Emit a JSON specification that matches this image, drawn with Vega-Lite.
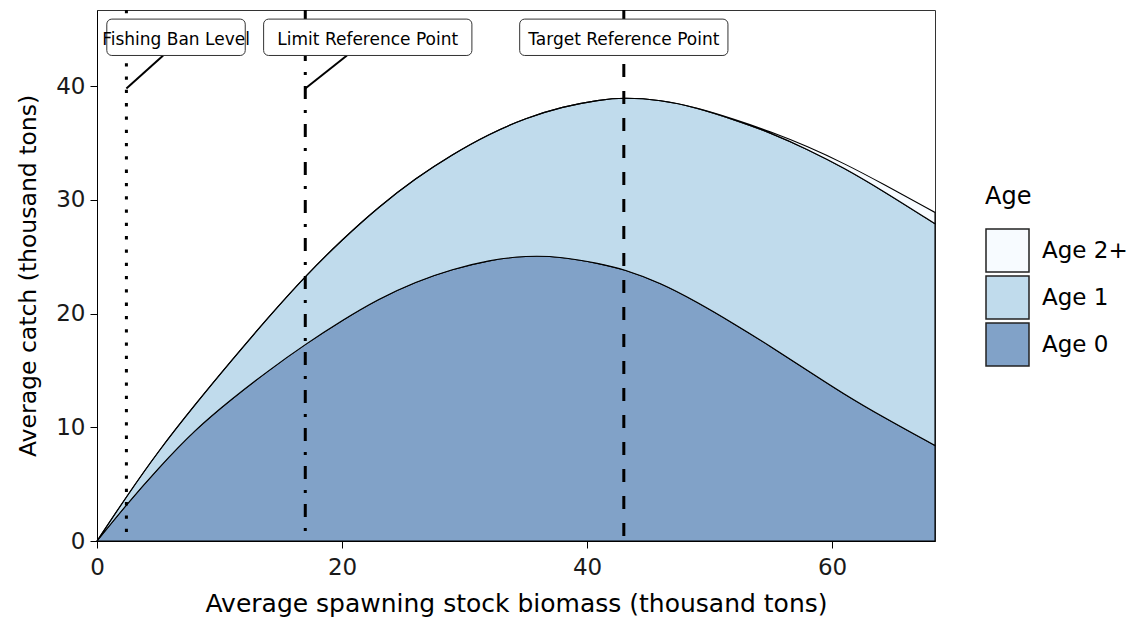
{
  "$schema": "https://vega.github.io/schema/vega-lite/v6.json",
  "width": 838,
  "height": 531,
  "autosize": {"type": "none"},
  "padding": {"left": 97, "top": 10, "right": 200, "bottom": 80},
  "background": "white",
  "config": {
    "font": "DejaVu Sans",
    "view": {"stroke": "#333333", "strokeWidth": 1},
    "axis": {
      "grid": false,
      "domainColor": "black",
      "domainWidth": 1,
      "tickColor": "black",
      "tickSize": 7,
      "tickWidth": 1,
      "labelFontSize": 23,
      "labelColor": "#1a1a1a",
      "labelFlush": false,
      "labelOverlap": false,
      "titleFontWeight": "normal",
      "titleColor": "black"
    }
  },
  "datasets": {
    "curves": [
      {"x": 0, "age": "Age 0", "catch": 0}, {"x": 0, "age": "Age 1", "catch": 0}, {"x": 0, "age": "Age 2+", "catch": 0},
      {"x": 2.4, "age": "Age 0", "catch": 3.2}, {"x": 2.4, "age": "Age 1", "catch": 0.7}, {"x": 2.4, "age": "Age 2+", "catch": 0},
      {"x": 5, "age": "Age 0", "catch": 6.4}, {"x": 5, "age": "Age 1", "catch": 1.5}, {"x": 5, "age": "Age 2+", "catch": 0},
      {"x": 8, "age": "Age 0", "catch": 9.8}, {"x": 8, "age": "Age 1", "catch": 2.2}, {"x": 8, "age": "Age 2+", "catch": 0},
      {"x": 11, "age": "Age 0", "catch": 12.5}, {"x": 11, "age": "Age 1", "catch": 3.4}, {"x": 11, "age": "Age 2+", "catch": 0},
      {"x": 14, "age": "Age 0", "catch": 15.0}, {"x": 14, "age": "Age 1", "catch": 4.7}, {"x": 14, "age": "Age 2+", "catch": 0},
      {"x": 17, "age": "Age 0", "catch": 17.3}, {"x": 17, "age": "Age 1", "catch": 6.0}, {"x": 17, "age": "Age 2+", "catch": 0},
      {"x": 20, "age": "Age 0", "catch": 19.4}, {"x": 20, "age": "Age 1", "catch": 7.1}, {"x": 20, "age": "Age 2+", "catch": 0},
      {"x": 23, "age": "Age 0", "catch": 21.3}, {"x": 23, "age": "Age 1", "catch": 8.1}, {"x": 23, "age": "Age 2+", "catch": 0},
      {"x": 26, "age": "Age 0", "catch": 22.8}, {"x": 26, "age": "Age 1", "catch": 9.1}, {"x": 26, "age": "Age 2+", "catch": 0},
      {"x": 29, "age": "Age 0", "catch": 23.9}, {"x": 29, "age": "Age 1", "catch": 10.1}, {"x": 29, "age": "Age 2+", "catch": 0},
      {"x": 32, "age": "Age 0", "catch": 24.7}, {"x": 32, "age": "Age 1", "catch": 11.1}, {"x": 32, "age": "Age 2+", "catch": 0},
      {"x": 35, "age": "Age 0", "catch": 25.1}, {"x": 35, "age": "Age 1", "catch": 12.1}, {"x": 35, "age": "Age 2+", "catch": 0},
      {"x": 38, "age": "Age 0", "catch": 25.0}, {"x": 38, "age": "Age 1", "catch": 13.2}, {"x": 38, "age": "Age 2+", "catch": 0},
      {"x": 41, "age": "Age 0", "catch": 24.4}, {"x": 41, "age": "Age 1", "catch": 14.4}, {"x": 41, "age": "Age 2+", "catch": 0},
      {"x": 43, "age": "Age 0", "catch": 23.9}, {"x": 43, "age": "Age 1", "catch": 15.1}, {"x": 43, "age": "Age 2+", "catch": 0},
      {"x": 46, "age": "Age 0", "catch": 22.7}, {"x": 46, "age": "Age 1", "catch": 16.1}, {"x": 46, "age": "Age 2+", "catch": 0},
      {"x": 49, "age": "Age 0", "catch": 21.0}, {"x": 49, "age": "Age 1", "catch": 17.1}, {"x": 49, "age": "Age 2+", "catch": 0},
      {"x": 52, "age": "Age 0", "catch": 19.1}, {"x": 52, "age": "Age 1", "catch": 17.95}, {"x": 52, "age": "Age 2+", "catch": 0.05},
      {"x": 55, "age": "Age 0", "catch": 17.1}, {"x": 55, "age": "Age 1", "catch": 18.8}, {"x": 55, "age": "Age 2+", "catch": 0.1},
      {"x": 58, "age": "Age 0", "catch": 15.0}, {"x": 58, "age": "Age 1", "catch": 19.45}, {"x": 58, "age": "Age 2+", "catch": 0.25},
      {"x": 61, "age": "Age 0", "catch": 12.9}, {"x": 61, "age": "Age 1", "catch": 19.9}, {"x": 61, "age": "Age 2+", "catch": 0.4},
      {"x": 64, "age": "Age 0", "catch": 11.0}, {"x": 64, "age": "Age 1", "catch": 19.9}, {"x": 64, "age": "Age 2+", "catch": 0.6},
      {"x": 68.4, "age": "Age 0", "catch": 8.4}, {"x": 68.4, "age": "Age 1", "catch": 19.5}, {"x": 68.4, "age": "Age 2+", "catch": 1.0}
    ],
    "refs": [
      {"ref": "Fishing Ban Level", "x": 2.4, "lx": 6.45, "ly": 44.05, "bx1": 0.8, "bx2": 12.1, "by1": 42.7, "by2": 45.9},
      {"ref": "Limit Reference Point", "x": 17.0, "lx": 22.1, "ly": 44.05, "bx1": 13.6, "bx2": 30.6, "by1": 42.7, "by2": 45.9},
      {"ref": "Target Reference Point", "x": 43.0, "lx": 43.0, "ly": 44.05, "bx1": 34.5, "bx2": 51.5, "by1": 42.7, "by2": 45.9}
    ],
    "leaders": [
      {"x": 2.4, "y": 39.8, "xe": 5.4, "ye": 42.7},
      {"x": 17.0, "y": 39.8, "xe": 20.4, "ye": 42.7}
    ]
  },
  "layer": [
    {
      "data": {"name": "curves"},
      "mark": {"type": "area", "interpolate": "basis", "stroke": "black", "strokeWidth": 1.1, "opacity": 1},
      "encoding": {
        "x": {"field": "x", "type": "quantitative", "scale": {"domain": [0, 68.4], "nice": false, "zero": false},
          "axis": {"values": [0, 20, 40, 60], "title": "Average spawning stock biomass (thousand tons)",
            "labelPadding": 8, "titleFontSize": 25, "titlePadding": 12}},
        "y": {"field": "catch", "type": "quantitative", "stack": "zero", "scale": {"domain": [0, 46.7], "nice": false},
          "axis": {"values": [0, 10, 20, 30, 40], "title": "Average catch (thousand tons)",
            "labelPadding": 5, "titleFontSize": 23.5, "titlePadding": 15}},
        "color": {"field": "age", "type": "nominal",
          "scale": {"domain": ["Age 2+", "Age 1", "Age 0"], "range": ["#F7FBFF", "#C0DBEC", "#81A2C8"]},
          "legend": {"title": "Age", "orient": "none", "legendX": 888, "legendY": 175,
            "titleFontSize": 24, "titleFontWeight": "normal", "titleColor": "black", "titlePadding": 19,
            "labelFontSize": 23, "labelColor": "black", "labelOffset": 12,
            "symbolType": "square", "symbolSize": 1849, "symbolStrokeColor": "#222222", "symbolStrokeWidth": 1.5,
            "symbolOpacity": 1, "rowPadding": -2}},
        "order": {"field": "age", "sort": "ascending"}
      }
    },
    {
      "data": {"name": "refs"},
      "mark": {"type": "rule", "strokeWidth": 3, "color": "black"},
      "encoding": {
        "x": {"field": "x", "type": "quantitative"},
        "strokeDash": {"field": "ref", "type": "nominal", "legend": null,
          "scale": {"domain": ["Fishing Ban Level", "Limit Reference Point", "Target Reference Point"],
            "range": [[3.3, 10], [13, 11, 3, 11], [13, 14]]}}
      }
    },
    {
      "data": {"name": "leaders"},
      "mark": {"type": "rule", "strokeWidth": 2, "color": "black"},
      "encoding": {
        "x": {"field": "x", "type": "quantitative"},
        "y": {"field": "y", "type": "quantitative"},
        "x2": {"field": "xe"},
        "y2": {"field": "ye"}
      }
    },
    {
      "data": {"name": "refs"},
      "mark": {"type": "rect", "fill": "white", "stroke": "#333333", "strokeWidth": 1, "cornerRadius": 5},
      "encoding": {
        "x": {"field": "bx1", "type": "quantitative"},
        "x2": {"field": "bx2"},
        "y": {"field": "by1", "type": "quantitative"},
        "y2": {"field": "by2"}
      }
    },
    {
      "data": {"name": "refs"},
      "mark": {"type": "text", "fontSize": 17, "color": "black", "align": "center", "baseline": "middle"},
      "encoding": {
        "x": {"field": "lx", "type": "quantitative"},
        "y": {"field": "ly", "type": "quantitative"},
        "text": {"field": "ref"}
      }
    }
  ]
}
